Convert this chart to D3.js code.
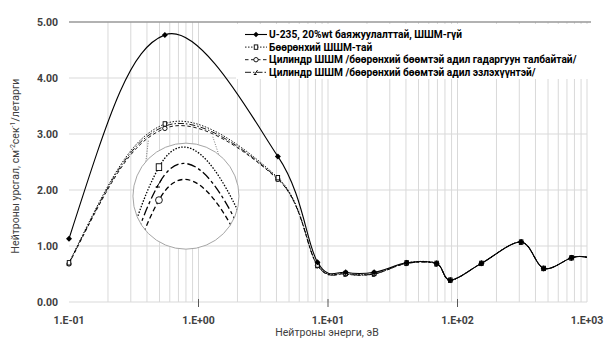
<!DOCTYPE html>
<html>
<head>
<meta charset="utf-8">
<script src="https://cdn.jsdelivr.net/npm/d3@7"></script>
<style>
  body { margin: 0; background: #fff; }
  svg { display: block; }
  text { font-family: Roboto, "Liberation Sans", sans-serif; }
</style>
</head>
<body>
<svg id="chart" width="615" height="340"></svg>
<script>
// values (energy in eV, flux per lethargy)
const energy      = [0.1, 0.55, 4.1, 8.3, 13.7, 22.7, 40.5, 69, 88, 153, 310, 463, 760, 1000];
const fluxBare    = [1.13, 4.77, 2.60, 0.71, 0.53, 0.53, 0.70, 0.69, 0.39, 0.69, 1.07, 0.60, 0.79, 0.80];
const fluxSphere  = [0.70, 3.18, 2.22, 0.66, 0.51, 0.51, 0.70, 0.69, 0.39, 0.69, 1.07, 0.60, 0.79, 0.80];
const fluxCylArea = [0.68, 3.10, 2.19, 0.65, 0.50, 0.50, 0.69, 0.68, 0.39, 0.69, 1.07, 0.60, 0.79, 0.80];
const fluxCylVol  = [0.69, 3.14, 2.20, 0.65, 0.50, 0.50, 0.69, 0.68, 0.39, 0.69, 1.07, 0.60, 0.79, 0.80];

const seriesNames = [
  "U-235, 20%wt баяжуулалттай, ШШМ-гүй",
  "Бөөрөнхий ШШМ-тай",
  "Цилиндр ШШМ /бөөрөнхий бөөмтэй адил гадаргуун талбайтай/",
  "Цилиндр ШШМ /бөөрөнхий бөөмтэй адил эзлэхүүнтэй/"
];
const xTicks = [0.1, 1, 10, 100, 1000];
const xTickLabels = ["1.E-01", "1.E+00", "1.E+01", "1.E+02", "1.E+03"];
const yTicks = [0, 1, 2, 3, 4, 5];
const xTitle = "Нейтроны энерги, эВ";

const svg = d3.select("#chart");
const pLeft = 69, pRight = 587, pTop = 22, pBottom = 302;

const x = d3.scaleLog().domain([0.1, 1000]).range([pLeft, pRight]);
const y = d3.scaleLinear().domain([0, 5]).range([pBottom, pTop]);

// Excel-like smoothed line (bezier, 1/6 tangents)
function smoothPath(pts, k) {
    const n = pts.length;
    const T = pts.map((p, i) => {
        const a = pts[Math.max(i - 1, 0)], b = pts[Math.min(i + 1, n - 1)];
        return [(b[0] - a[0]) / 6, (b[1] - a[1]) / 6];
    });
    let d = "M" + pts[0];
    for (let i = 0; i < n - 1; i++) {
        const p = pts[i], q = pts[i + 1];
        let c1 = [p[0] + T[i][0], p[1] + T[i][1]];
        let c2 = [q[0] - T[i + 1][0], q[1] - T[i + 1][1]];
        if (i === 0) c1 = [p[0] + k * (c2[0] - p[0]), p[1] + k * (c2[1] - p[1])];
        if (i === n - 2) c2 = [q[0] + k * (c1[0] - q[0]), q[1] + k * (c1[1] - q[1])];
        d += "C" + c1 + " " + c2 + " " + q;
    }
    return d;
}

const series = [
    {name: seriesNames[0], values: fluxBare,    dash: null,        marker: "diamond"},
    {name: seriesNames[1], values: fluxSphere,  dash: "1.5,1.5",   marker: "square"},
    {name: seriesNames[2], values: fluxCylArea, dash: "3.5,2.5",   marker: "circle"},
    {name: seriesNames[3], values: fluxCylVol,  dash: "6,2,1.5,2", marker: "slash"}
];

function drawMarker(g, type, size) {
    const s = size;
    if (type === "diamond") {
        g.append("path").attr("d", `M0,${-s}L${s},0L0,${s}L${-s},0Z`).attr("fill", "#000");
    } else if (type === "square") {
        g.append("rect").attr("x", -s * 0.8).attr("y", -s).attr("width", s * 1.6).attr("height", s * 2)
            .attr("fill", "#fff").attr("stroke", "#000").attr("stroke-width", 0.9);
    } else if (type === "circle") {
        g.append("circle").attr("r", s).attr("fill", "#fff").attr("stroke", "#000").attr("stroke-width", 0.9);
    } else {
        g.append("path").attr("d", `M${-s * 0.7},${s}L${s * 0.7},${-s}M${-s},${s}L${s * 0.3},${s}`)
            .attr("fill", "none").attr("stroke", "#000").attr("stroke-width", 1);
    }
}

// gridlines
const grid = svg.append("g");
const minor = [];
[0.1, 1, 10, 100].forEach(d => { for (let m = 2; m <= 9; m++) minor.push(d * m); });
grid.selectAll("line.minor").data(minor.concat(xTicks.slice(1))).join("line")
    .attr("x1", d => x(d)).attr("x2", d => x(d))
    .attr("y1", pTop).attr("y2", pBottom)
    .attr("stroke", "#d9d9d9").attr("stroke-width", 1);
grid.selectAll("line.h").data(yTicks.slice(0, -1)).join("line")
    .attr("x1", pLeft).attr("x2", pRight)
    .attr("y1", d => y(d)).attr("y2", d => y(d))
    .attr("stroke", "#d9d9d9").attr("stroke-width", 1);
grid.append("line").attr("x1", pLeft).attr("x2", pRight + 4)
    .attr("y1", y(5)).attr("y2", y(5))
    .attr("stroke", "#999").attr("stroke-width", 1.5);

// ticks on x axis
grid.selectAll("line.tick").data(xTicks.slice(1, -1)).join("line")
    .attr("x1", d => x(d)).attr("x2", d => x(d))
    .attr("y1", pBottom - 3).attr("y2", pBottom + 5)
    .attr("stroke", "#595959").attr("stroke-width", 1);

// axis labels
svg.append("g").selectAll("text").data(xTicks).join("text")
    .attr("x", d => x(d)).attr("y", 324)
    .attr("text-anchor", "middle").attr("font-size", 10.5).attr("font-weight", 700).attr("fill", "#404040")
    .text((d, i) => xTickLabels[i]);
svg.append("g").selectAll("text").data(yTicks).join("text")
    .attr("x", 58).attr("y", d => y(d) + 3.5)
    .attr("text-anchor", "end").attr("font-size", 10.5).attr("font-weight", 700).attr("fill", "#404040")
    .text(d => d.toFixed(2));

svg.append("text").attr("x", 327).attr("y", 336).attr("text-anchor", "middle")
    .attr("font-size", 10.5).attr("fill", "#404040").text(xTitle);

const yt = svg.append("text").attr("transform", "translate(19,166) rotate(-90)")
    .attr("text-anchor", "middle").attr("font-size", 10.5).attr("fill", "#404040");
yt.append("tspan").text("Нейтроны урсгал, см");
yt.append("tspan").attr("dy", -4).attr("font-size", 7).text("-2");
yt.append("tspan").attr("dy", 4).text("сек");
yt.append("tspan").attr("dy", -4).attr("font-size", 7).text("-1");
yt.append("tspan").attr("dy", 4).text("/летарги");

// main series
const plot = svg.append("g");
series.slice().reverse().forEach(s => {
    const pts = energy.map((e, i) => [x(e), y(s.values[i])]);
    plot.append("path").attr("d", smoothPath(pts, 0.7))
        .attr("fill", "none").attr("stroke", "#000")
        .attr("stroke-width", s.dash ? 0.9 : 1.1)
        .attr("stroke-dasharray", s.dash);
    pts.slice(0, -1).forEach(p => {
        drawMarker(plot.append("g").attr("transform", `translate(${p})`), s.marker, s.marker === "diamond" ? 3 : 2.2);
    });
});

// magnifier inset around the peak of the three lower curves
const cx = x(0.80), cy = y(1.89), r = 53;
const lensL = [x(0.41), y(2.88)], lensR = [x(1.29), y(2.95)];
const aL = 153 * Math.PI / 180, aR = 15 * Math.PI / 180;
svg.append("line").attr("x1", lensL[0]).attr("y1", lensL[1])
    .attr("x2", cx + r * Math.cos(aL)).attr("y2", cy + r * Math.sin(aL))
    .attr("stroke", "#555").attr("stroke-width", 0.8).attr("stroke-dasharray", "1,1.5");
svg.append("line").attr("x1", lensR[0]).attr("y1", lensR[1])
    .attr("x2", cx + r * Math.cos(aR)).attr("y2", cy + r * Math.sin(aR))
    .attr("stroke", "#555").attr("stroke-width", 0.8).attr("stroke-dasharray", "1,1.5");

svg.append("defs").append("clipPath").attr("id", "lens")
    .append("circle").attr("cx", cx).attr("cy", cy).attr("r", r);
svg.append("circle").attr("cx", cx).attr("cy", cy).attr("r", r).attr("fill", "#fff");

const ix = d3.scaleLog().domain([0.55, 5.5]).range([cx - 27, cx - 27 + 216]);
const iy = d3.scaleLinear().domain([3.18, 2.18]).range([cy - 29, cy - 29 + 412]);
const inset = svg.append("g").attr("clip-path", "url(#lens)");
const insetDash = ["1.5,1.5", "5,3", "9,3,3,3"];
series.slice(1).forEach((s, j) => {
    const pts = energy.map((e, i) => [ix(e), iy(s.values[i])]);
    inset.append("path").attr("d", smoothPath(pts, 0.7))
        .attr("fill", "none").attr("stroke", "#000").attr("stroke-width", 1.3)
        .attr("stroke-dasharray", insetDash[j]);
    pts.forEach(p => {
        drawMarker(inset.append("g").attr("transform", `translate(${p})`), s.marker, 3.4);
    });
});
svg.append("circle").attr("cx", cx).attr("cy", cy).attr("r", r)
    .attr("fill", "none").attr("stroke", "#a6a6a6").attr("stroke-width", 1);

// legend
const lg = svg.append("g").attr("transform", "translate(236,24)");
lg.append("rect").attr("width", 353).attr("height", 55).attr("fill", "#fff");
series.forEach((s, i) => {
    const row = lg.append("g").attr("transform", `translate(0,${10.5 + i * 12.6})`);
    row.append("line").attr("x1", 9).attr("x2", 31).attr("stroke", "#000")
        .attr("stroke-width", s.dash ? 0.9 : 1.1).attr("stroke-dasharray", s.dash);
    drawMarker(row.append("g").attr("transform", "translate(20,0)"), s.marker, s.marker === "diamond" ? 2.8 : 2.2);
    row.append("text").attr("x", 33).attr("y", 3.5).attr("font-size", 10.2).attr("font-weight", 700)
        .attr("fill", "#000").text(s.name);
});
</script>
</body>
</html>
